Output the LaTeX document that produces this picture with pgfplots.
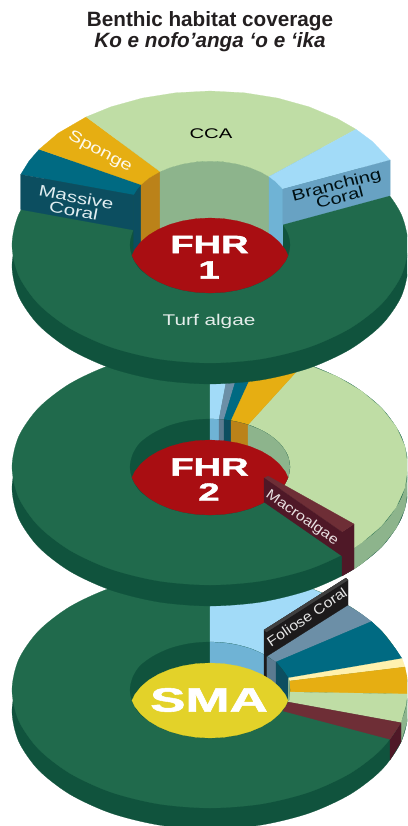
\documentclass[border=0pt]{standalone}
\usepackage{fontspec}
\setmainfont{Liberation Sans}
\newfontface\hvy[FakeBold=1.5]{Liberation Sans Bold}
\usepackage{pgfplots}
\pgfplotsset{compat=1.18}

\definecolor{turf}{HTML}{206A4C}
\definecolor{turfdark}{HTML}{10533D}
\definecolor{cca}{HTML}{BFDDA5}
\definecolor{ccawall}{HTML}{8DB48C}
\definecolor{sponge}{HTML}{E6AE12}
\definecolor{spongewall}{HTML}{BB8219}
\definecolor{massive}{HTML}{006A82}
\definecolor{massivewall}{HTML}{0C4E60}
\definecolor{branch}{HTML}{A2DBF8}
\definecolor{branchwall}{HTML}{6FB3D5}
\definecolor{branchfront}{HTML}{68A2C3}
\definecolor{foliose}{HTML}{6C8FA7}
\definecolor{foliosewall}{HTML}{5B7A90}
\definecolor{cream}{HTML}{FFF1AE}
\definecolor{macro}{HTML}{6E2E36}
\definecolor{macrodark}{HTML}{4F1827}
\definecolor{fhr}{HTML}{A90E12}
\definecolor{sma}{HTML}{E3D229}
\definecolor{board}{HTML}{1C1A1B}
\definecolor{titletext}{HTML}{231F20}

\tikzset{sl/.style={fill=#1,draw=#1,line width=0.2pt}}
\newcommand\fs[1]{\fontsize{#1}{#1}\selectfont}

\begin{document}
\begin{tikzpicture}
\useasboundingbox (0,0) rectangle (407pt,826pt);
\begin{axis}[
    at={(0,0)},
    anchor=south west,
    width=407pt,
    height=826pt,
    scale only axis,
    xmin=0, xmax=407,
    ymin=0, ymax=826,
    y dir=reverse,
    axis lines=none,
]
% ---------- SMA (bottom disc, drawn first)
\addplot[sl=turfdark,smooth cycle] coordinates {(408,711)(401.3,741.5)(381.5,770)(350,794.4)(309,813.2)(261.2,825)(210,829)(158.8,825)(111,813.2)(70,794.4)(38.5,770)(18.7,741.5)(12,711)(18.7,680.5)(38.5,652)(70,627.6)(111,608.8)(158.8,597)(210,593)(261.2,597)(309,608.8)(350,627.6)(381.5,652)(401.3,680.5)};
\addplot[sl=ccawall] coordinates {(401,722.7)(405,710)(408,695)(408,711)(407,722)(401,742)} --cycle;
\addplot[sl=macrodark] coordinates {(401,722.7)(390,739.3)(390,760)(401,742)} --cycle;
\addplot[sl=turf,smooth cycle] coordinates {(408,690)(401.3,720.5)(381.5,749)(350,773.4)(309,792.2)(261.2,804)(210,808)(158.8,804)(111,792.2)(70,773.4)(38.5,749)(18.7,720.5)(12,690)(18.7,659.5)(38.5,631)(70,606.6)(111,587.8)(158.8,576)(210,572)(261.2,576)(309,587.8)(350,606.6)(381.5,631)(401.3,659.5)};
\addplot[sl=branch] coordinates {(210,642)(210,572)(244.4,573.8)(277.7,579.1)(309,587.8)(337.3,599.6)(347,604.9)(266.5,656.5)(261.4,653.2)(250,648.4)(237.4,644.9)(223.9,642.7)} --cycle;
\addplot[sl=foliose] coordinates {(266.5,656.5)(347,604.9)(361.7,614.2)(371.5,621.5)(276,662)} --cycle;
\addplot[sl=massive] coordinates {(276,662)(371.5,621.5)(381.5,631)(396.1,649.6)(402,658.5)(288.2,678)} --cycle;
\addplot[sl=cream] coordinates {(288.2,678)(402,658.5)(405,667)(289,681)} --cycle;
\addplot[sl=sponge] coordinates {(289.5,681)(405,667)(407.5,680)(408,690)(407.5,694)(289.5,692)} --cycle;
\addplot[sl=cca] coordinates {(289.5,692)(407.5,694)(406,705)(401,722.7)(288,702)} --cycle;
\addplot[sl=macro] coordinates {(288,702)(401,722.7)(390,739.3)(283,711)} --cycle;
% hole and walls
\addplot[sl=turfdark,smooth cycle] coordinates {(290,690)(287.3,702.4)(279.3,714)(266.6,723.9)(250,731.6)(230.7,736.4)(210,738)(189.3,736.4)(170,731.6)(153.4,723.9)(140,714)(132.7,702.4)(130,690)(132.7,677.6)(140,666)(153.4,656.1)(170,648.4)(189.3,643.6)(210,642)(230.7,643.6)(250,648.4)(266.6,656.1)(279.3,666)(287.3,677.6)};
\addplot[sl=branchwall] coordinates {(210,642)(223.9,642.7)(237.4,644.9)(250,648.4)(261.4,653.2)(266.5,656.5)(266.5,682)(210,682)} --cycle;
\addplot[sl=foliosewall] coordinates {(266.5,656.5)(276,662)(276,688)(266.5,682)} --cycle;
\addplot[sl=massivewall] coordinates {(276,662)(279.3,666)(285.2,673.6)(288.2,678)(288.2,700)(276,688)} --cycle;
\addplot[sl=ccawall] coordinates {(288.2,678)(289.5,681)(289.5,700)(288.2,700)} --cycle;
% foliose board
\addplot[sl=board] coordinates {(264,630)(346,578)(348,580)(348,605)(266.5,656.5)(266.5,682)(264,678)} --cycle;
\addplot[sl=black!75] coordinates {(264,630)(346,578)(348,580)(266.5,632)} --cycle;
% centre
\addplot[sl=sma] coordinates {(288.1,700.5)(285.2,706.4)(279.3,714)(271.3,720.9)(261.4,726.8)(250,731.6)(237.4,735.1)(223.9,737.3)(210,738)(196.1,737.3)(182.6,735.1)(170,731.6)(158.6,726.8)(148.7,720.9)(140.7,714)(134.8,706.4)(131.9,700.5)(134.8,694.6)(140.7,687)(148.7,680.1)(158.6,674.2)(170,669.4)(182.6,665.9)(196.1,663.7)(210,663)(223.9,663.7)(237.4,665.9)(250,669.4)(261.4,674.2)(271.3,680.1)(279.3,687)(285.2,694.6)} --cycle;
\node[text=white,font=\fs{33.5}\hvy] at (axis cs:209,700) {\scalebox{1.58}[1]{SMA}};
\node[text=white!90!black,font=\fs{14},rotate=34] at (axis cs:307,617) {\scalebox{1.13}[1]{Foliose Coral}};

% ---------- FHR 2
\addplot[sl=turfdark,smooth cycle] coordinates {(408,488)(401.3,518.5)(381.5,547)(350,571.4)(309,590.2)(261.2,602)(210,606)(158.8,602)(111,590.2)(70,571.4)(38.5,547)(18.7,518.5)(12,488)(18.7,457.5)(38.5,429)(70,404.6)(111,385.8)(158.8,374)(210,370)(261.2,374)(309,385.8)(350,404.6)(381.5,429)(401.3,457.5)};
\addplot[sl=ccawall] coordinates {(408,467)(405,487.5)(396.1,507.4)(381.5,526)(361.7,542.8)(353.9,548.1)(353.9,569.1)(361.7,563.8)(381.5,547)(396.1,528.4)(405,508.5)(408,488)} --cycle;
\addplot[sl=turf,smooth cycle] coordinates {(408,467)(401.3,497.5)(381.5,526)(350,550.4)(309,569.2)(261.2,581)(210,585)(158.8,581)(111,569.2)(70,550.4)(38.5,526)(18.7,497.5)(12,467)(18.7,436.5)(38.5,408)(70,383.6)(111,364.8)(158.8,353)(210,349)(261.2,353)(309,364.8)(350,383.6)(381.5,408)(401.3,436.5)};
\addplot[sl=cca] coordinates {(304.1,363.2)(337.3,376.6)(361.7,391.2)(381.5,408)(396.1,426.6)(405,446.5)(408,467)(405,487.5)(396.1,507.4)(381.5,526)(361.7,542.8)(353.9,548.1)(268.1,500)(271.3,497.9)(279.3,491)(285.2,483.4)(288.8,475.3)(290,467)(288.8,458.7)(285.2,450.6)(279.3,443)(271.3,436.1)(261.4,430.2)(248,424.8)} --cycle;
\addplot[sl=branch] coordinates {(210,419)(210,349)(221,349.2)(232.3,349.8)(219,419.3)} --cycle;
\addplot[sl=foliose] coordinates {(219,419.3)(232.3,349.8)(244.6,350.8)(224,419.7)} --cycle;
\addplot[sl=massive] coordinates {(224,419.7)(244.6,350.8)(262,353)(231,420.7)} --cycle;
\addplot[sl=sponge] coordinates {(231,420.7)(262,353)(284.2,357.6)(304.1,363.2)(248,424.8)} --cycle;
% hole and walls
\addplot[sl=turfdark,smooth cycle] coordinates {(290,467)(287.3,479.4)(279.3,491)(266.6,500.9)(250,508.6)(230.7,513.4)(210,515)(189.3,513.4)(170,508.6)(153.4,500.9)(140,491)(132.7,479.4)(130,467)(132.7,454.6)(140,443)(153.4,433.1)(170,425.4)(189.3,420.6)(210,419)(230.7,420.6)(250,425.4)(266.6,433.1)(279.3,443)(287.3,454.6)};
\addplot[sl=branchwall] coordinates {(210,419)(219,419.3)(219,448)(210,448)} --cycle;
\addplot[sl=foliosewall] coordinates {(219,419.3)(224,419.7)(224,448)(219,448)} --cycle;
\addplot[sl=massivewall] coordinates {(224,419.7)(231,420.7)(231,448)(224,448)} --cycle;
\addplot[sl=spongewall] coordinates {(231,420.7)(240,422.5)(248,424.8)(248,450)(231,448)} --cycle;
\addplot[sl=ccawall] coordinates {(248,424.8)(261.4,430.2)(271.3,436.1)(279.3,443)(285.2,450.6)(288.8,458.7)(290,467)(288.8,475.3)(288.1,477.5)(270,477)(248,470)} --cycle;
% centre
\addplot[sl=fhr] coordinates {(288.1,477.5)(285.2,483.4)(279.3,491)(271.3,497.9)(261.4,503.8)(250,508.6)(237.4,512.1)(223.9,514.3)(210,515)(196.1,514.3)(182.6,512.1)(170,508.6)(158.6,503.8)(148.7,497.9)(140.7,491)(134.8,483.4)(131.9,477.5)(134.8,471.6)(140.7,464)(148.7,457.1)(158.6,451.2)(170,446.4)(182.6,442.9)(196.1,440.7)(210,440)(223.9,440.7)(237.4,442.9)(250,446.4)(261.4,451.2)(271.3,457.1)(279.3,464)(285.2,471.6)} --cycle;
\node[text=white,font=\fs{25}\hvy] at (axis cs:209.5,467) {\scalebox{1.52}[1]{FHR}};
\node[text=white,font=\fs{25}\hvy] at (axis cs:209,492) {\scalebox{1.52}[1]{2}};
% macroalgae block
\addplot[sl=macrodark] coordinates {(342,532)(354,524)(354,569)(342,576)} --cycle;
\addplot[sl=macro] coordinates {(264,478)(268,476)(354,524)(342,532)} --cycle;
\addplot[sl=macrodark] coordinates {(264,478)(342,532)(342,556)(264,502)} --cycle;
\node[text=white!85!macro,font=\fs{14},rotate=-35] at (axis cs:302,518) {\scalebox{1.16}[1]{Macroalgae}};

% ---------- FHR 1 (top disc, drawn last)
\addplot[sl=turfdark,smooth cycle] coordinates {(408,266)(401.3,296.5)(381.5,325)(350,349.4)(309,368.2)(261.2,380)(210,384)(158.8,380)(111,368.2)(70,349.4)(38.5,325)(18.7,296.5)(12,266)(18.7,235.5)(38.5,207)(70,182.6)(111,163.8)(158.8,152)(210,148)(261.2,152)(309,163.8)(350,182.6)(381.5,207)(401.3,235.5)};
\addplot[sl=turf,smooth cycle] coordinates {(408,245)(401.3,275.5)(381.5,304)(350,328.4)(309,347.2)(261.2,359)(210,363)(158.8,359)(111,347.2)(70,328.4)(38.5,304)(18.7,275.5)(12,245)(18.7,214.5)(38.5,186)(70,161.6)(111,142.8)(158.8,131)(210,127)(261.2,131)(309,142.8)(350,161.6)(381.5,186)(401.3,214.5)};
\addplot[sl=turfdark,smooth cycle] coordinates {(290,245)(287.3,257.4)(279.3,269)(266.6,278.9)(250,286.6)(230.7,291.4)(210,293)(189.3,291.4)(170,286.6)(153.4,278.9)(140,269)(132.7,257.4)(130,245)(132.7,232.6)(140,221)(153.4,211.1)(170,203.4)(189.3,198.6)(210,197)(230.7,198.6)(250,203.4)(266.6,211.1)(279.3,221)(287.3,232.6)};
% raised slices: walls
\addplot[sl=massivewall] coordinates {(133.5,195)(136.9,189.5)(141,184.7)(141,255)(133.5,255)} --cycle;
\addplot[sl=spongewall] coordinates {(141,184.7)(148.7,178.1)(160,171.5)(160,255)(141,255)} --cycle;
\addplot[sl=ccawall] coordinates {(160,171.5)(170,167.4)(182.6,163.9)(196.1,161.7)(210,161)(223.9,161.7)(237.4,163.9)(250,167.4)(261.4,172.2)(269,176.6)(269,255)(160,255)} --cycle;
\addplot[sl=branchwall] coordinates {(269,176.6)(275.5,181.5)(282.8,189.1)(282.8,255)(269,255)} --cycle;
% raised slices: faces
\addplot[sl=massive] coordinates {(20.7,174.5)(29.1,161)(39.2,149.3)(141,184.7)(136.9,189.5)(133.5,195)} --cycle;
\addplot[sl=sponge] coordinates {(39.2,149.3)(58.3,133.1)(86.2,116.9)(160,171.5)(148.7,178.1)(141,184.7)} --cycle;
\addplot[sl=cca] coordinates {(86.2,116.9)(111,106.8)(142.3,98.1)(175.6,92.8)(210,91)(244.4,92.8)(277.7,98.1)(309,106.8)(337.3,118.6)(356,129.3)(269,176.6)(261.4,172.2)(250,167.4)(237.4,163.9)(223.9,161.7)(210,161)(196.1,161.7)(182.6,163.9)(170,167.4)(160,171.5)} --cycle;
\addplot[sl=branch] coordinates {(356,129.3)(372.2,141.3)(390.2,160.1)(282.8,189.1)(275.5,181.5)(269,176.6)} --cycle;
% raised slices: cut faces
\addplot[sl=branchfront] coordinates {(390.2,160.1)(282.8,189.1)(282.8,224.5)(390.2,195.5)} --cycle;
\addplot[sl=massivewall] coordinates {(133.5,195)(20.7,174.5)(20.7,209.5)(133.5,230)} --cycle;
% centre
\addplot[sl=fhr] coordinates {(288.1,255.5)(285.2,261.4)(279.3,269)(271.3,275.9)(261.4,281.8)(250,286.6)(237.4,290.1)(223.9,292.3)(210,293)(196.1,292.3)(182.6,290.1)(170,286.6)(158.6,281.8)(148.7,275.9)(140.7,269)(134.8,261.4)(131.9,255.5)(134.8,249.6)(140.7,242)(148.7,235.1)(158.6,229.2)(170,224.4)(182.6,220.9)(196.1,218.7)(210,218)(223.9,218.7)(237.4,220.9)(250,224.4)(261.4,229.2)(271.3,235.1)(279.3,242)(285.2,249.6)} --cycle;
\node[text=white,font=\fs{25}\hvy] at (axis cs:209.5,244.5) {\scalebox{1.52}[1]{FHR}};
\node[text=white,font=\fs{25}\hvy] at (axis cs:209,270) {\scalebox{1.52}[1]{1}};
% labels
\node[text=black,font=\fs{14}] at (axis cs:211,134) {\scalebox{1.45}[1]{CCA}};
\node[text=white!92!sponge,font=\fs{15.5},rotate=-28] at (axis cs:100,152) {\scalebox{1.31}[1]{Sponge}};
\node[text=white!88!massive,font=\fs{15.5},rotate=-11,align=center] at (axis cs:75,204) {\scalebox{1.33}[1]{Massive}\\[-2pt]\scalebox{1.33}[1]{Coral}};
\node[text=black!85!massive,font=\fs{15.5},rotate=14.5,align=center] at (axis cs:338,191) {\scalebox{1.31}[1]{Branching}\\[-2pt]\scalebox{1.31}[1]{Coral}};
\node[text=white!88!turf,font=\fs{15.5}] at (axis cs:209,321) {\scalebox{1.34}[1]{Turf algae}};
% title
\node[anchor=base,text=titletext,font=\fs{20.7}\bfseries] at (axis cs:210,26.7) {Benthic habitat coverage};
\node[anchor=base,text=titletext,font=\fs{20.7}\bfseries\itshape] at (axis cs:210,48) {Ko e nofo’anga ‘o e ‘ika};
\end{axis}
\end{tikzpicture}
\end{document}
